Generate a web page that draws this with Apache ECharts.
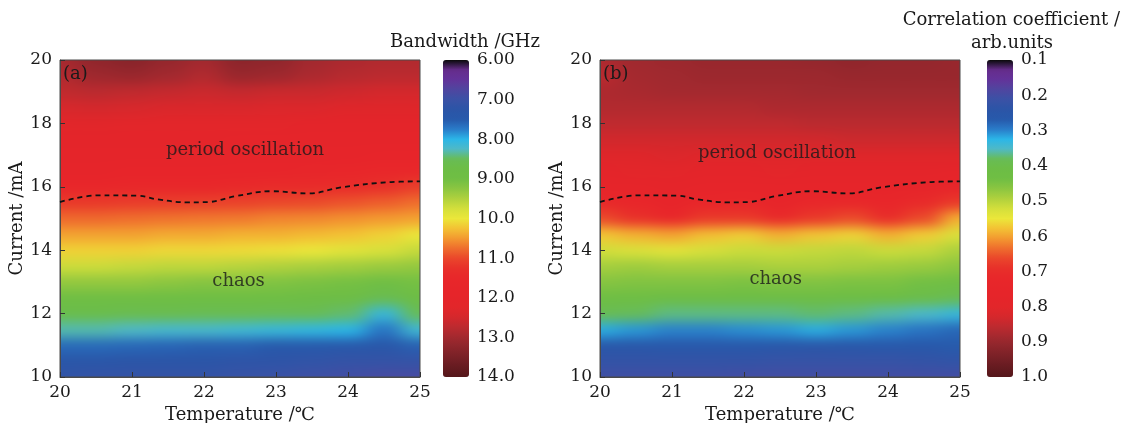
<!DOCTYPE html>
<html>
<head>
<meta charset="utf-8">
<script src="https://cdn.jsdelivr.net/npm/echarts@6/dist/echarts.min.js"></script>
<style>
  html, body { margin: 0; padding: 0; background: #fff; }
  #wrap { position: relative; width: 1122px; height: 423px; overflow: hidden; }
  .clip { position: absolute; overflow: hidden; }
  .heat, .smooth { position: absolute; }
  #main { position: absolute; left: 0; top: 0; width: 1122px; height: 423px; }
</style>
</head>
<body>
<div id="wrap">
  <div class="clip" id="clipA"><div class="heat" id="heatA"></div></div>
  <div class="clip" id="clipB"><div class="heat" id="heatB"></div></div>
  <div id="main"></div>
</div>
<script>
// Sampling grid: temperature (°C) columns and bias current (mA) rows
const temperatures = [20, 20.5, 21, 21.5, 22, 22.5, 23, 23.5, 24, 24.5, 25];
const currents = [10, 10.5, 11, 11.5, 12, 12.5, 13, 13.5, 14, 14.5, 15, 15.5, 16, 16.5, 17, 17.5, 18, 18.5, 19, 19.5, 20];

// (a) bandwidth in GHz, one row per current (10 mA first), one column per temperature
const bandwidth = [
  [7.15, 7.10, 7.10, 7.10, 7.10, 7.05, 7.00, 6.95, 6.90, 6.85, 6.85],
  [7.30, 7.30, 7.25, 7.25, 7.25, 7.20, 7.20, 7.15, 7.10, 7.10, 7.10],
  [7.62, 7.62, 7.60, 7.58, 7.55, 7.55, 7.50, 7.50, 7.45, 7.38, 7.55],
  [8.30, 8.30, 8.25, 8.20, 8.20, 8.15, 8.10, 8.05, 8.00, 7.70, 8.15],
  [8.65, 8.65, 8.60, 8.60, 8.55, 8.55, 8.50, 8.50, 8.45, 8.10, 8.50],
  [9.00, 9.00, 9.00, 8.95, 8.95, 8.90, 8.90, 8.85, 8.80, 8.60, 8.80],
  [9.30, 9.30, 9.30, 9.25, 9.20, 9.20, 9.15, 9.10, 9.05, 9.00, 9.05],
  [9.70, 9.70, 9.65, 9.60, 9.60, 9.55, 9.50, 9.45, 9.40, 9.35, 9.30],
  [10.15, 10.15, 10.15, 10.10, 10.10, 10.08, 10.05, 10.00, 9.90, 9.80, 9.65],
  [10.45, 10.45, 10.45, 10.40, 10.40, 10.35, 10.35, 10.30, 10.25, 10.15, 10.00],
  [10.78, 10.78, 10.75, 10.72, 10.70, 10.68, 10.62, 10.60, 10.55, 10.50, 10.45],
  [11.15, 11.15, 11.12, 11.10, 11.08, 11.05, 11.00, 10.98, 10.92, 10.85, 10.75],
  [11.60, 11.60, 11.55, 11.52, 11.50, 11.45, 11.40, 11.38, 11.35, 11.25, 11.10],
  [11.85, 11.85, 11.80, 11.80, 11.75, 11.70, 11.70, 11.65, 11.60, 11.55, 11.50],
  [12.00, 12.00, 12.00, 11.95, 11.95, 11.90, 11.90, 11.85, 11.85, 11.80, 11.75],
  [12.10, 12.10, 12.10, 12.05, 12.05, 12.00, 12.00, 12.00, 12.00, 11.95, 11.95],
  [12.25, 12.25, 12.20, 12.20, 12.20, 12.15, 12.15, 12.10, 12.10, 12.10, 12.10],
  [12.45, 12.50, 12.45, 12.40, 12.40, 12.40, 12.35, 12.35, 12.30, 12.30, 12.30],
  [12.70, 12.75, 12.70, 12.65, 12.60, 12.65, 12.60, 12.60, 12.55, 12.50, 12.50],
  [12.85, 13.05, 13.10, 13.00, 12.85, 13.10, 13.05, 12.90, 12.80, 12.75, 12.75],
  [12.95, 13.20, 13.30, 13.15, 13.00, 13.25, 13.20, 13.00, 12.90, 12.85, 12.85]
];

// (b) correlation coefficient (arb. units), same grid
const correlation = [
  [0.205, 0.205, 0.205, 0.205, 0.200, 0.200, 0.200, 0.200, 0.200, 0.200, 0.200],
  [0.225, 0.225, 0.225, 0.225, 0.225, 0.220, 0.220, 0.220, 0.220, 0.225, 0.230],
  [0.255, 0.255, 0.260, 0.260, 0.260, 0.255, 0.250, 0.255, 0.260, 0.265, 0.270],
  [0.320, 0.310, 0.300, 0.300, 0.305, 0.310, 0.320, 0.310, 0.300, 0.290, 0.280],
  [0.385, 0.380, 0.370, 0.370, 0.370, 0.370, 0.375, 0.370, 0.360, 0.350, 0.335],
  [0.425, 0.425, 0.420, 0.420, 0.415, 0.420, 0.420, 0.415, 0.410, 0.400, 0.385],
  [0.460, 0.455, 0.455, 0.455, 0.450, 0.455, 0.455, 0.450, 0.450, 0.440, 0.435],
  [0.485, 0.480, 0.485, 0.485, 0.485, 0.490, 0.490, 0.485, 0.480, 0.475, 0.465],
  [0.520, 0.530, 0.540, 0.525, 0.515, 0.515, 0.510, 0.505, 0.515, 0.510, 0.490],
  [0.575, 0.590, 0.600, 0.580, 0.570, 0.590, 0.575, 0.565, 0.590, 0.570, 0.530],
  [0.660, 0.690, 0.720, 0.680, 0.680, 0.710, 0.680, 0.660, 0.700, 0.660, 0.590],
  [0.715, 0.730, 0.745, 0.730, 0.725, 0.740, 0.725, 0.720, 0.730, 0.710, 0.680],
  [0.755, 0.760, 0.770, 0.760, 0.760, 0.765, 0.760, 0.755, 0.760, 0.755, 0.740],
  [0.785, 0.790, 0.790, 0.785, 0.785, 0.790, 0.785, 0.785, 0.785, 0.780, 0.775],
  [0.810, 0.810, 0.815, 0.810, 0.810, 0.810, 0.810, 0.810, 0.810, 0.810, 0.810],
  [0.835, 0.835, 0.835, 0.835, 0.835, 0.835, 0.835, 0.840, 0.840, 0.840, 0.840],
  [0.855, 0.855, 0.855, 0.855, 0.855, 0.855, 0.860, 0.860, 0.860, 0.860, 0.860],
  [0.870, 0.870, 0.870, 0.870, 0.870, 0.875, 0.875, 0.875, 0.875, 0.875, 0.875],
  [0.875, 0.880, 0.885, 0.885, 0.885, 0.885, 0.890, 0.890, 0.890, 0.890, 0.890],
  [0.860, 0.885, 0.890, 0.895, 0.895, 0.895, 0.895, 0.900, 0.900, 0.900, 0.900],
  [0.875, 0.890, 0.895, 0.900, 0.900, 0.900, 0.905, 0.910, 0.905, 0.905, 0.900]
];

// Boundary between period oscillation and chaos (dashed curve)
const boundaryT = [20, 20.53, 21.08, 21.36, 21.78, 22.06, 22.43, 22.94, 23.45, 23.9, 24.6, 25];
const boundaryI = [15.52, 15.73, 15.72, 15.6, 15.51, 15.52, 15.7, 15.86, 15.79, 15.98, 16.15, 16.17];

// Colour-bar tick labels
const bandwidthTicks = ['6.00', '7.00', '8.00', '9.00', '10.0', '11.0', '12.0', '13.0', '14.0'];
const correlationTicks = ['0.1', '0.2', '0.3', '0.4', '0.5', '0.6', '0.7', '0.8', '0.9', '1.0'];

// Region labels: [temperature, current, text]
const regionLabels = [
  [22.57, 17.16, 'period oscillation'],
  [22.48, 13.03, 'chaos']
];
const regionLabelsB = [
  [22.46, 17.07, 'period oscillation'],
  [22.44, 13.07, 'chaos']
];

// Rainbow colour map, evenly spaced from min to max
const palette = [
  '#0a0a0a', '#662c8c', '#63339a', '#4f46a0', '#3a52a6', '#2b55a7', '#2759ab', '#2a7cc9',
  '#2bb6e8', '#4fb9c6', '#68bc55', '#6cbd45', '#6fbe44', '#8cc640', '#b0d13d', '#d3df3b',
  '#ebe73a', '#f3c234', '#f39a30', '#ef6e2d', '#ea472b', '#e8302a', '#e8272a', '#e7252a',
  '#e5252a', '#e2262a', '#d4282c', '#bb2a2f', '#a2292f', '#8c252b', '#782026', '#661b20', '#55161a'
];

const FONT = '"DejaVu Serif", "Liberation Serif", serif';
const TXT = '#1a1a1a';

const panels = [
  { clip: 'clipA', heat: 'heatA', rect: { left: 60, top: 60, width: 360, height: 317 }, values: bandwidth, min: 6, max: 14 },
  { clip: 'clipB', heat: 'heatB', rect: { left: 600, top: 60, width: 360, height: 317 }, values: correlation, min: 0.1, max: 1.0 }
];

// Separable box blur (three passes approximate a Gaussian), edges clamped
function boxPass(src, dst, w, h, r, horizontal) {
  const n = 2 * r + 1;
  const outer = horizontal ? h : w, inner = horizontal ? w : h;
  for (let o = 0; o < outer; o++) {
    for (let c = 0; c < 3; c++) {
      const at = k => {
        const kk = k < 0 ? 0 : (k >= inner ? inner - 1 : k);
        return horizontal ? ((o * w + kk) * 4 + c) : ((kk * w + o) * 4 + c);
      };
      let sum = 0;
      for (let k = -r; k <= r; k++) sum += src[at(k)];
      for (let i = 0; i < inner; i++) {
        dst[at(i)] = sum / n;
        sum += src[at(i + r + 1)] - src[at(i - r)];
      }
    }
  }
}
function smoothImage(img, rx, ry) {
  const w = img.width, h = img.height;
  const a = new Float32Array(img.data);
  const b = new Float32Array(a.length);
  for (let p = 0; p < 3; p++) {
    boxPass(a, b, w, h, rx, true);
    boxPass(b, a, w, h, ry, false);
  }
  for (let i = 0; i < a.length; i += 4) {
    img.data[i] = a[i]; img.data[i + 1] = a[i + 1]; img.data[i + 2] = a[i + 2]; img.data[i + 3] = 255;
  }
  return img;
}

// Heat layers: cells centred on the sample points, smoothed and clipped to the plot box
const PAD = 30;
panels.forEach(p => {
  const r = p.rect;
  const clip = document.getElementById(p.clip);
  Object.assign(clip.style, { left: r.left + 'px', top: r.top + 'px', width: r.width + 'px', height: r.height + 'px' });
  const el = document.getElementById(p.heat);
  const W = r.width + 2 * PAD, H = r.height + 2 * PAD;
  Object.assign(el.style, { left: -PAD + 'px', top: -PAD + 'px', width: W + 'px', height: H + 'px' });
  const cellW = r.width / (temperatures.length - 1);
  const cellH = r.height / (currents.length - 1);
  const data = [];
  p.values.forEach((row, yi) => row.forEach((v, xi) => data.push([xi, yi, v])));
  const chart = echarts.init(el, null, { renderer: 'canvas', devicePixelRatio: 1 });
  chart.setOption({
    animation: false,
    grid: { left: PAD - cellW / 2, right: PAD - cellW / 2, top: PAD - cellH / 2, bottom: PAD - cellH / 2, outerBoundsMode: 'none' },
    xAxis: { type: 'category', data: temperatures.map(String), show: false },
    yAxis: { type: 'category', data: currents.map(String), show: false },
    visualMap: { show: false, min: p.min, max: p.max, dimension: 2, seriesIndex: 0, inRange: { color: palette } },
    series: [{ type: 'heatmap', data: data, progressive: 0, itemStyle: { borderWidth: 0 } }]
  });
  chart.getZr().flush();
  const src = el.querySelector('canvas');
  if (!src) return;
  // smooth only inside the painted cell area, then show the result in place of the raw cells
  const x0 = Math.ceil(PAD - cellW / 2) + 1, y0 = Math.ceil(PAD - cellH / 2) + 1;
  const x1 = Math.floor(W - (PAD - cellW / 2)) - 1, y1 = Math.floor(H - (PAD - cellH / 2)) - 1;
  const img = src.getContext('2d').getImageData(x0, y0, x1 - x0, y1 - y0);
  smoothImage(img, 9, 5);
  const out = document.createElement('canvas');
  out.className = 'smooth';
  out.width = W; out.height = H;
  Object.assign(out.style, { left: -PAD + 'px', top: -PAD + 'px', width: W + 'px', height: H + 'px' });
  out.getContext('2d').putImageData(img, x0, y0);
  clip.appendChild(out);
  el.style.visibility = 'hidden';
});

// Axes, frame, colour bars, boundary curves and labels
const main = echarts.init(document.getElementById('main'), null, { renderer: 'canvas' });

function plotX(idx) {
  return {
    gridIndex: idx, type: 'value', min: 20, max: 25, interval: 1,
    name: 'Temperature /\u2103', nameLocation: 'middle', nameGap: 23,
    nameTextStyle: { fontFamily: FONT, fontSize: 18, color: TXT },
    axisLine: { show: true, lineStyle: { color: '#4a4a4a', width: 1 } },
    axisTick: { show: true, inside: true, length: 5, lineStyle: { color: '#333' } },
    axisLabel: { fontFamily: FONT, fontSize: 17, color: TXT, margin: 7 },
    splitLine: { show: false }
  };
}
function plotY(idx) {
  return {
    gridIndex: idx, type: 'value', min: 10, max: 20, interval: 2,
    name: 'Current /mA', nameLocation: 'middle', nameGap: 31, nameRotate: 90,
    nameTextStyle: { fontFamily: FONT, fontSize: 18, color: TXT },
    axisLine: { show: true, lineStyle: { color: '#4a4a4a', width: 1 } },
    axisTick: { show: true, inside: true, length: 5, lineStyle: { color: '#333' } },
    axisLabel: { fontFamily: FONT, fontSize: 17, color: TXT, margin: 8 },
    splitLine: { show: false }
  };
}
function barY(idx, ticks) {
  return {
    gridIndex: idx, type: 'category', data: ticks, boundaryGap: false, inverse: true, position: 'right',
    axisLine: { show: false }, axisTick: { show: false },
    axisLabel: { fontFamily: FONT, fontSize: 17, color: TXT, margin: 8, interval: 0 },
    splitLine: { show: false }
  };
}
function colourBar(p, left) {
  return {
    type: 'continuous', seriesIndex: [], min: p.min, max: p.max, inverse: true, orient: 'vertical',
    left: left, top: 60, itemWidth: 26, itemHeight: 317, padding: 0,
    calculable: false, realtime: false, hoverLink: false, inRange: { color: palette }
  };
}
function boundary(idx) {
  return {
    type: 'line', xAxisIndex: idx, yAxisIndex: idx, smooth: 0.4, symbol: 'none', silent: true,
    data: boundaryT.map((t, i) => [t, boundaryI[i]]),
    lineStyle: { color: '#111', width: 1.8, type: [5, 4] }, z: 5
  };
}
function labels(idx, items) {
  return {
    type: 'scatter', xAxisIndex: idx, yAxisIndex: idx, symbolSize: 0, silent: true, z: 6,
    data: items,
    label: { show: true, position: 'inside', formatter: q => q.data[2], fontFamily: FONT, fontSize: 18, color: TXT }
  };
}
function txt(x, y, text, align) {
  return { type: 'text', x: x, y: y, silent: true, z: 10,
    style: { text: text, fontFamily: FONT, fontSize: 18, fill: TXT, align: align, verticalAlign: 'middle' } };
}

const gridBase = { outerBoundsMode: 'none', containLabel: false };
main.setOption({
  animation: false,
  backgroundColor: 'transparent',
  textStyle: { fontFamily: FONT },
  grid: [
    Object.assign({ left: 60, top: 60, width: 360, height: 317, show: true, borderColor: '#4a4a4a', borderWidth: 1, backgroundColor: 'transparent' }, gridBase),
    Object.assign({ left: 600, top: 60, width: 360, height: 317, show: true, borderColor: '#4a4a4a', borderWidth: 1, backgroundColor: 'transparent' }, gridBase),
    Object.assign({ left: 443, top: 60, width: 26, height: 317 }, gridBase),
    Object.assign({ left: 987, top: 60, width: 26, height: 317 }, gridBase)
  ],
  xAxis: [plotX(0), plotX(1),
    { gridIndex: 2, type: 'value', min: 0, max: 1, show: false },
    { gridIndex: 3, type: 'value', min: 0, max: 1, show: false }],
  yAxis: [plotY(0), plotY(1), barY(2, bandwidthTicks), barY(3, correlationTicks)],
  visualMap: [colourBar(panels[0], 443), colourBar(panels[1], 987)],
  series: [boundary(0), boundary(1), labels(0, regionLabels), labels(1, regionLabelsB)],
  graphic: [
    txt(63, 74, '(a)', 'left'),
    txt(603, 74, '(b)', 'left'),
    txt(540, 42, 'Bandwidth /GHz', 'right'),
    txt(1120, 20, 'Correlation coefficient /', 'right'),
    txt(1012, 43, 'arb.units', 'center')
  ]
});
</script>
</body>
</html>
